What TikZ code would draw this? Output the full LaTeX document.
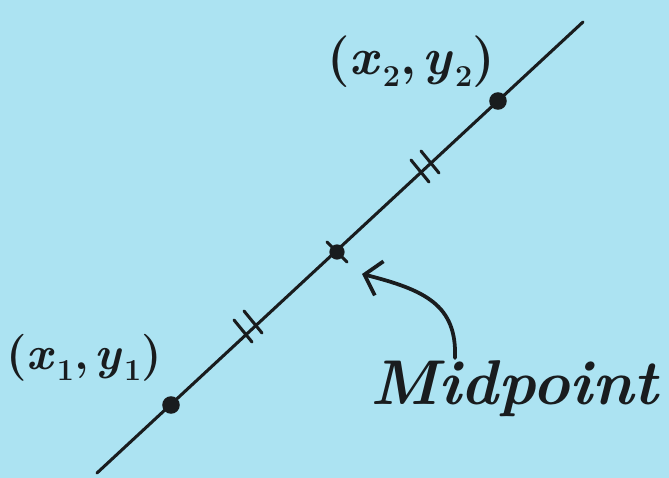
\documentclass[tikz,border=0pt]{standalone}
\usetikzlibrary{arrows.meta}
\definecolor{bgblue}{RGB}{172,227,242}
\definecolor{ink}{RGB}{25,28,30}
\newcommand{\subidx}[1]{\raisebox{-0.22em}{\fontsize{26}{30}\selectfont #1}}
\newcommand{\ptlabel}[1]{(\textit{x}\kern0.04em\subidx{#1},\kern0.12em\textit{y}\kern0.04em\subidx{#1})}
\begin{document}
\begin{tikzpicture}[x=0.03cm,y=-0.03cm,
  inkline/.style={draw=ink,line width=2.6pt,line cap=round},
  dotpt/.style={circle,fill=ink,inner sep=0pt,minimum size=15pt},
  tickmark/.style={draw=ink,line width=2.6pt,line cap=round},
  lbl/.style={text=ink,inner sep=0pt}]
\fill[bgblue] (0,0) rectangle (669,478);
\useasboundingbox (0,0) rectangle (669,478);
% line end points
\coordinate (lo) at (97,473);
\coordinate (hi) at (583,22);
\draw[inkline] (lo) -- (hi);
% points
\node[dotpt] (p1) at (171,405) {};
\node[dotpt] (p2) at (498,101) {};
\node[dotpt,minimum size=13pt] (pm) at (337,252) {};
\draw[tickmark] (327,242) -- (347,262);
% double tick marks
\begin{scope}[shift={(243,332)}]
\draw[tickmark] (-9,-12) -- (9,10);
\draw[tickmark] (1,-21) -- (19,1);
\end{scope}
\begin{scope}[shift={(420,172)}]
\draw[tickmark] (-9,-12) -- (9,10);
\draw[tickmark] (1,-21) -- (19,1);
\end{scope}
% labels
\node[lbl,font=\fontsize{40}{46}\selectfont\bfseries] (l1) at (84,358) {\ptlabel{1}};
\node[lbl,font=\fontsize{44}{50}\selectfont\bfseries] (l2) at (411,62) {\ptlabel{2}};
\node[lbl,font=\fontsize{54}{60}\selectfont\bfseries\itshape] (lm) at (514,389) {Midpoint};
% arrow
\draw[inkline,line width=3.2pt,-{Straight Barb[length=13pt,width=30pt,line width=3.2pt]}]
  (455,358) .. controls (457,305) and (425,290) .. (362,274);
\end{tikzpicture}
\end{document}
